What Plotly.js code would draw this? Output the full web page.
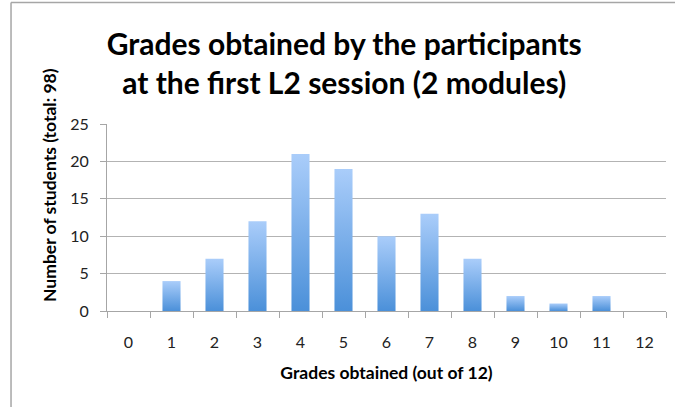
<!DOCTYPE html>
<html>
<head>
<meta charset="utf-8">
<script src="https://cdn.plot.ly/plotly-3.0.1.min.js"></script>
<style>html,body{margin:0;padding:0;background:#fff;}#chart{width:675px;height:407px;}</style>
</head>
<body>
<div id="chart"></div>
<script>
const grades = ["0","1","2","3","4","5","6","7","8","9","10","11","12"];
const students = [0, 4, 7, 12, 21, 19, 10, 13, 7, 2, 1, 2, 0];
const titleText = "Grades obtained by the participants<br>at the first L2 session (2 modules)";
const xTitle = "Grades obtained (out of 12)";
const yTitle = "Number of students (total: 98)";

const FONT = "Lato, 'Open Sans', sans-serif";
const trace = {
  type: "bar",
  x: grades,
  y: students,
  width: 0.42,
  marker: {color: "#7db3ec", line: {width: 0}},
  hoverinfo: "x+y"
};
const layout = {
  width: 675, height: 407,
  margin: {l: 107, r: 9, t: 124, b: 96},
  paper_bgcolor: "#ffffff",
  plot_bgcolor: "#ffffff",
  showlegend: false,
  title: {
    text: titleText,
    font: {family: FONT, size: 30, color: "#000", weight: "bold"},
    x: 0.51, xanchor: "center",
    y: 0.866, yanchor: "middle"
  },
  xaxis: {
    type: "category",
    tickson: "boundaries",
    ticks: "outside", ticklen: 6, tickcolor: "#a6a6a6", tickwidth: 1,
    showline: true, linecolor: "#a6a6a6", linewidth: 1,
    showgrid: false, zeroline: false,
    tickfont: {family: FONT, size: 16, color: "#222"},
    ticklabelstandoff: 17,
    title: {text: xTitle, font: {family: FONT, size: 17.5, color: "#000", weight: "bold"}, standoff: 16},
    fixedrange: true
  },
  yaxis: {
    range: [0, 25], dtick: 5, tick0: 0,
    ticks: "outside", ticklen: 6, tickcolor: "#a6a6a6",
    showline: true, linecolor: "#a6a6a6", linewidth: 1,
    showgrid: true, gridcolor: "#b3b3b3", gridwidth: 1,
    zeroline: false,
    tickfont: {family: FONT, size: 16, color: "#222"},
    ticklabelstandoff: 8,
    title: {text: ""},
    fixedrange: true
  },
  annotations: [
    {text: yTitle, xref: "paper", yref: "paper", x: -0.102, y: 0.674,
     xanchor: "center", yanchor: "middle", textangle: -90, showarrow: false,
     font: {family: FONT, size: 17.5, color: "#000", weight: "bold"}}
  ],
  shapes: [
    {type: "line", xref: "paper", yref: "paper", x0: -0.1717, x1: -0.1717, y0: -0.6, y1: 1.6497, line: {color: "#a6a6a6", width: 1.5}},
    {type: "line", xref: "paper", yref: "paper", x0: -0.1717, x1: 1.2, y0: 1.6497, y1: 1.6497, line: {color: "#a6a6a6", width: 1.5}}
  ]
};
Plotly.newPlot("chart", [trace], layout, {displayModeBar: false, staticPlot: true}).then(function(gd){
  const svg = gd.querySelector("svg.main-svg");
  const ns = "http://www.w3.org/2000/svg";
  let defs = svg.querySelector("defs");
  if (!defs) { defs = document.createElementNS(ns, "defs"); svg.insertBefore(defs, svg.firstChild); }
  const lg = document.createElementNS(ns, "linearGradient");
  lg.setAttribute("id", "barGrad");
  lg.setAttribute("x1", "0"); lg.setAttribute("y1", "0");
  lg.setAttribute("x2", "0"); lg.setAttribute("y2", "1");
  [["0", "#aacdfa"], ["1", "#4b90d9"]].forEach(function(s){
    const st = document.createElementNS(ns, "stop");
    st.setAttribute("offset", s[0]); st.setAttribute("stop-color", s[1]);
    lg.appendChild(st);
  });
  defs.appendChild(lg);
  gd.querySelectorAll(".bars .point path").forEach(function(p){
    p.style.fill = "url(#barGrad)";
  });
});
</script>
</body>
</html>
